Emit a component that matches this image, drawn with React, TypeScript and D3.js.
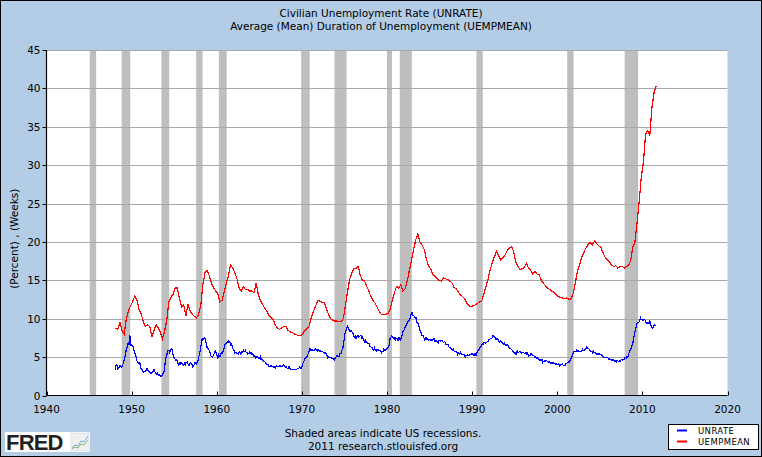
import React from "react";
import * as d3 from "d3";

// ---------- DATA ----------
const titleLines = ["Civilian Unemployment Rate (UNRATE)", "Average (Mean) Duration of Unemployment (UEMPMEAN)"];
const yAxisLabel = "(Percent) , (Weeks)";
const footerLines = ["Shaded areas indicate US recessions.", "2011 research.stlouisfed.org"];
const legendLabels = ["UNRATE", "UEMPMEAN"];
const xTicks = [1940, 1950, 1960, 1970, 1980, 1990, 2000, 2010, 2020];
const yTicks = [0, 5, 10, 15, 20, 25, 30, 35, 40, 45];

// Recessions: [start "YYYY-MM", end "YYYY-MM"]
const recessions: [string, string][] = [
  ["1945-02", "1945-10"], ["1948-11", "1949-10"], ["1953-07", "1954-05"],
  ["1957-08", "1958-04"], ["1960-04", "1961-02"], ["1969-12", "1970-11"],
  ["1973-11", "1975-03"], ["1980-01", "1980-07"], ["1981-07", "1982-11"],
  ["1990-07", "1991-03"], ["2001-03", "2001-11"], ["2007-12", "2009-06"],
];

// UNRATE monthly, starting Jan 1948
const unrateStart = 1948;
const unrate = [
  3.4,3.8,4.0,3.9,3.5,3.6,3.6,3.9,3.8,3.7,3.8,4.0,
  4.3,4.7,5.0,5.3,6.1,6.2,6.7,6.8,6.6,7.9,6.4,6.6,
  6.5,6.4,6.3,5.8,5.5,5.4,5.0,4.5,4.4,4.2,4.2,4.3,
  3.7,3.4,3.4,3.1,3.0,3.2,3.1,3.1,3.3,3.5,3.5,3.1,
  3.2,3.1,2.9,2.9,3.0,3.0,3.2,3.4,3.1,3.0,2.8,2.7,
  2.9,2.6,2.6,2.7,2.5,2.5,2.6,2.7,2.9,3.1,3.5,4.5,
  4.9,5.2,5.7,5.9,5.9,5.6,5.8,6.0,6.1,5.7,5.3,5.0,
  4.9,4.7,4.6,4.7,4.3,4.2,4.0,4.2,4.1,4.3,4.2,4.2,
  4.0,3.9,4.2,4.0,4.3,4.3,4.4,4.1,3.9,3.9,4.3,4.2,
  4.2,3.9,3.7,3.9,4.1,4.3,4.2,4.1,4.4,4.5,5.1,5.2,
  5.8,6.4,6.7,7.4,7.4,7.3,7.5,7.4,7.1,6.7,6.2,6.2,
  6.0,5.9,5.6,5.2,5.1,5.0,5.1,5.2,5.5,5.7,5.8,5.3,
  5.2,4.8,5.4,5.2,5.1,5.4,5.5,5.6,5.5,6.1,6.1,6.6,
  6.6,6.9,6.9,7.0,7.1,6.9,7.0,6.6,6.7,6.5,6.1,6.0,
  5.8,5.5,5.6,5.6,5.5,5.5,5.4,5.7,5.6,5.4,5.7,5.5,
  5.7,5.9,5.7,5.7,5.9,5.6,5.6,5.4,5.5,5.5,5.7,5.5,
  5.6,5.4,5.4,5.3,5.1,5.2,4.9,5.0,5.1,5.1,4.8,5.0,
  4.9,5.1,4.7,4.8,4.6,4.6,4.4,4.4,4.3,4.2,4.1,4.0,
  4.0,3.8,3.8,3.8,3.9,3.8,3.8,3.8,3.7,3.7,3.6,3.8,
  3.9,3.8,3.8,3.8,3.8,3.9,3.8,3.8,3.8,4.0,3.9,3.8,
  3.7,3.8,3.7,3.5,3.5,3.7,3.7,3.5,3.4,3.4,3.4,3.4,
  3.4,3.4,3.4,3.4,3.4,3.5,3.5,3.5,3.7,3.7,3.5,3.5,
  3.9,4.2,4.4,4.6,4.8,4.9,5.0,5.1,5.4,5.5,5.9,6.1,
  5.9,5.9,6.0,5.9,5.9,5.9,6.0,6.1,6.0,5.8,6.0,6.0,
  5.8,5.7,5.8,5.7,5.7,5.7,5.6,5.6,5.5,5.6,5.3,5.2,
  4.9,5.0,4.9,5.0,4.9,4.9,4.8,4.8,4.8,4.6,4.8,4.9,
  5.1,5.2,5.1,5.1,5.1,5.4,5.5,5.5,5.9,6.0,6.6,7.2,
  8.1,8.1,8.6,8.8,9.0,8.8,8.6,8.4,8.4,8.4,8.3,8.2,
  7.9,7.7,7.6,7.7,7.4,7.6,7.8,7.8,7.6,7.7,7.8,7.8,
  7.5,7.6,7.4,7.2,7.0,7.2,6.9,7.0,6.8,6.8,6.8,6.4,
  6.4,6.3,6.3,6.1,6.0,5.9,6.2,5.9,6.0,5.8,5.9,6.0,
  5.9,5.9,5.8,5.8,5.6,5.7,5.7,6.0,5.9,6.0,5.9,6.0,
  6.3,6.3,6.3,6.9,7.5,7.6,7.8,7.7,7.5,7.5,7.5,7.2,
  7.5,7.4,7.4,7.2,7.5,7.5,7.2,7.4,7.6,7.9,8.3,8.5,
  8.6,8.9,9.0,9.3,9.4,9.6,9.8,9.8,10.1,10.4,10.8,10.8,
  10.4,10.4,10.3,10.2,10.1,10.1,9.4,9.5,9.2,8.8,8.5,8.3,
  8.0,7.8,7.8,7.7,7.4,7.2,7.5,7.5,7.3,7.4,7.2,7.3,
  7.3,7.2,7.2,7.3,7.2,7.4,7.4,7.1,7.1,7.1,7.0,7.0,
  6.7,7.2,7.2,7.1,7.2,7.2,7.0,6.9,7.0,7.0,6.9,6.6,
  6.6,6.6,6.6,6.3,6.3,6.2,6.1,6.0,5.9,6.0,5.8,5.7,
  5.7,5.7,5.7,5.4,5.6,5.4,5.4,5.6,5.4,5.4,5.3,5.3,
  5.4,5.2,5.0,5.2,5.2,5.3,5.2,5.2,5.3,5.3,5.4,5.4,
  5.4,5.3,5.2,5.4,5.4,5.2,5.5,5.7,5.9,5.9,6.2,6.3,
  6.4,6.6,6.8,6.7,6.9,6.9,6.8,6.9,6.9,7.0,7.0,7.3,
  7.3,7.4,7.4,7.4,7.6,7.8,7.7,7.6,7.6,7.3,7.4,7.4,
  7.3,7.1,7.0,7.1,7.1,7.0,6.9,6.8,6.7,6.8,6.6,6.5,
  6.6,6.6,6.5,6.4,6.1,6.1,6.1,6.0,5.9,5.8,5.6,5.5,
  5.6,5.4,5.4,5.8,5.6,5.6,5.7,5.7,5.6,5.5,5.6,5.6,
  5.6,5.5,5.5,5.6,5.6,5.3,5.5,5.1,5.2,5.2,5.4,5.4,
  5.3,5.2,5.2,5.1,4.9,5.0,4.9,4.8,4.9,4.7,4.6,4.7,
  4.6,4.6,4.7,4.3,4.4,4.5,4.5,4.5,4.6,4.5,4.4,4.4,
  4.3,4.4,4.2,4.3,4.2,4.3,4.3,4.2,4.2,4.1,4.1,4.0,
  4.0,4.1,4.0,3.8,4.0,4.0,4.0,4.1,3.9,3.9,3.9,3.9,
  4.2,4.2,4.3,4.4,4.3,4.5,4.6,4.9,5.0,5.3,5.5,5.7,
  5.7,5.7,5.7,5.9,5.8,5.8,5.8,5.7,5.7,5.7,5.9,6.0,
  5.8,5.9,5.9,6.0,6.1,6.3,6.2,6.1,6.1,6.0,5.8,5.7,
  5.7,5.6,5.8,5.6,5.6,5.6,5.5,5.4,5.4,5.5,5.4,5.4,
  5.3,5.4,5.2,5.2,5.1,5.0,5.0,4.9,5.0,5.0,5.0,4.9,
  4.7,4.8,4.7,4.7,4.6,4.6,4.7,4.7,4.5,4.4,4.5,4.4,
  4.6,4.5,4.4,4.5,4.4,4.6,4.7,4.6,4.7,4.7,4.7,5.0,
  5.0,4.9,5.1,5.0,5.4,5.6,5.8,6.1,6.1,6.5,6.8,7.3,
  7.8,8.3,8.7,9.0,9.4,9.5,9.5,9.6,9.8,10.1,9.9,9.9,
  9.8,9.8,9.9,9.9,9.6,9.4,9.4,9.5,9.5,9.4,9.8,9.3,
  9.0,8.9,8.8,9.0,9.1,9.2,9.1,
];

// UEMPMEAN quarterly, starting 1948 Q1
const uempStart = 1948;
const uempmean = [
  8.8,8.6,9.5,8.4, 8.0,10.0,11.0,11.7, 12.2,13.0,12.4,11.2, 10.6,9.6,9.0,9.2,
  9.0,7.6,8.5,9.2, 8.8,8.2,7.4,8.4, 9.8,12.2,12.8,13.2, 14.0,14.0,12.6,11.5,
  11.8,10.4,11.8,11.0, 10.6,10.3,10.1,10.6, 11.8,14.5,16.0,16.3, 15.6,14.6,14.0,13.6,
  13.3,12.2,12.4,13.5, 14.6,15.6,17.0,16.6, 16.0,15.2,14.0,13.6, 14.2,13.8,13.8,13.6,
  13.6,13.4,14.6,13.2, 12.4,11.9,11.4,11.0, 10.4,10.2,9.9,9.2, 8.8,8.6,8.8,9.0,
  9.0,8.5,8.3,8.2, 8.0,7.9,7.8,7.8, 8.1,8.5,8.7,9.1, 10.2,11.0,11.7,12.4,
  12.3,12.1,12.1,11.3, 10.6,10.0,9.8,9.7, 9.7,9.6,9.7,10.0, 11.8,13.6,15.2,16.0,
  16.5,16.6,16.8,15.6, 15.0,14.9,14.2,13.6, 12.9,12.3,12.0,11.4, 10.9,10.5,10.5,10.6,
  10.7,11.2,12.4,13.4, 14.2,14.0,14.4,13.6, 13.9,14.9,16.3,17.6, 19.0,20.3,21.0,20.0,
  19.6,19.0,17.8,16.9, 16.5,15.8,15.5,15.2, 15.0,14.9,15.3,15.2, 15.1,14.9,14.7,14.1,
  13.9,13.5,13.1,12.9, 12.6,12.0,11.7,11.6, 11.7,11.8,12.0,12.2, 12.3,13.2,14.2,15.2,
  16.4,17.3,18.1,18.8, 18.2,17.6,18.0,18.3, 18.9,19.2,19.4,18.8, 17.4,16.8,16.4,16.5,
  16.7,17.2,16.6,16.3, 15.8,16.2,15.8,15.7, 15.0,14.6,14.3,14.0, 13.8,13.6,13.4,13.1,
  12.9,12.8,12.7,12.6, 12.7,12.5,12.6,13.3, 14.7,16.2,17.0,18.0, 18.6,19.2,19.7,19.9,
  19.6,20.1,19.8,19.5, 19.3,18.6,18.0,17.7, 17.4,17.0,16.8,16.9, 16.6,16.8,16.8,16.6,
  16.8,16.9,17.6,19.3, 20.0,22.5,25.3,28.5, 30.4,34.0,34.5,33.9, 37.5,39.5,40.3,
];

// ---------- LAYOUT ----------
const W = 762, H = 457;
const M = { left: 46.5, right: 727.5, top: 50, bottom: 395.5 };
const BG = "#b4cde6";
const FONT = "'DejaVu Sans', Verdana, sans-serif";

const ym = (s: string) => { const [y, m] = s.split("-").map(Number); return y + (m - 1) / 12; };

export default function App() {
  const x = d3.scaleLinear().domain([1940, 2020]).range([M.left, M.right]);
  const y = d3.scaleLinear().domain([0, 45]).range([M.bottom, M.top]);

  const unratePts = unrate.map((v, i) => [unrateStart + i / 12 + 1 / 24, v] as [number, number]);
  const uempPts = uempmean.map((v, i) => [uempStart + i / 4 + 1 / 8, v] as [number, number]);
  const line = d3.line<[number, number]>().x(d => x(d[0])).y(d => y(d[1]));

  return (
    <svg width={W} height={H} style={{ position: "fixed", left: 0, top: 0, display: "block" }} fontFamily={FONT}>
      <rect x={0.5} y={0.5} width={W - 1} height={H - 1} fill={BG} stroke="#000" strokeWidth={1} />
      {/* titles */}
      {titleLines.map((t, i) => (
        <text key={t} x={381} y={17 + i * 13} textAnchor="middle" fontSize={10.5} fill="#000">{t}</text>
      ))}
      {/* plot area */}
      <rect x={M.left} y={M.top} width={M.right - M.left} height={M.bottom - M.top} fill="#fff" />
      {/* recessions */}
      {recessions.map(([s, e]) => (
        <rect key={s} x={x(ym(s))} y={M.top} width={x(ym(e) + 1 / 12) - x(ym(s))} height={M.bottom - M.top} fill="#bebebe" />
      ))}
      {/* gridlines */}
      {yTicks.filter(t => t > 0).map(t => (
        <line key={t} x1={M.left} x2={M.right} y1={Math.round(y(t)) + 0.5} y2={Math.round(y(t)) + 0.5} stroke="#a8a8a8" strokeWidth={1} />
      ))}
      {/* series */}
      <path d={line(uempPts) || ""} fill="none" stroke="#ff0000" strokeWidth={1.2} shapeRendering="crispEdges" />
      <path d={line(unratePts) || ""} fill="none" stroke="#0000ff" strokeWidth={1.2} shapeRendering="crispEdges" />
      {/* axes */}
      <line x1={M.left} x2={M.left} y1={M.top} y2={M.bottom} stroke="#000" strokeWidth={1.2} />
      <line x1={M.left} x2={M.right} y1={M.bottom} y2={M.bottom} stroke="#000" strokeWidth={1.2} />
      {yTicks.map(t => (
        <g key={t}>
          <line x1={M.left - 4} x2={M.left} y1={Math.round(y(t)) + 0.5} y2={Math.round(y(t)) + 0.5} stroke="#000" />
          <text x={M.left - 6} y={y(t) + 4} textAnchor="end" fontSize={10.5} fill="#000">{t}</text>
        </g>
      ))}
      {xTicks.map(t => (
        <g key={t}>
          <line x1={Math.round(x(t)) + 0.5} x2={Math.round(x(t)) + 0.5} y1={M.bottom} y2={M.bottom - 4} stroke="#000" />
          <text x={x(t)} y={413} textAnchor="middle" fontSize={10.5} fill="#000">{t}</text>
        </g>
      ))}
      <text transform={`translate(18,${(M.top + M.bottom) / 2 + 16}) rotate(-90)`} textAnchor="middle" fontSize={10.5} fill="#000">{yAxisLabel}</text>
      {/* footer */}
      {footerLines.map((t, i) => (
        <text key={t} x={383} y={437 + i * 13} textAnchor="middle" fontSize={10.5} fill="#000">{t}</text>
      ))}
      {/* FRED logo */}
      <g>
        <rect x={5} y={432} width={85} height={20} fill="#fff" />
        <text x={6} y={449.5} fontFamily="'Liberation Sans', Arial, sans-serif" fontWeight="bold" fontSize={22} letterSpacing={-0.8} fill="#231f20">FRED</text>
        <rect x={71} y={433} width={18} height={18} fill="#eef0f2" stroke="#d0d4d8" strokeWidth={0.5} />
        <polyline points="72,448 75,445 78,446 81,441 84,442 88,436" fill="none" stroke="#7aa9d6" strokeWidth={1} />
        <polyline points="72,449 75,447 78,448 81,444 84,445 88,440" fill="none" stroke="#8cb86a" strokeWidth={1} />
      </g>
      {/* legend */}
      <g>
        <rect x={668.5} y={424.5} width={90} height={25} fill="#fff" stroke="#000" strokeWidth={1} />
        {legendLabels.map((l, i) => (
          <g key={l}>
            <line x1={677} x2={687} y1={430.5 + i * 11} y2={430.5 + i * 11} stroke={i === 0 ? "#0000ff" : "#ff0000"} strokeWidth={2} />
            <text x={698} y={434 + i * 11} fontSize={8.5} letterSpacing={0.4} fill="#000">{l}</text>
          </g>
        ))}
      </g>
    </svg>
  );
}
